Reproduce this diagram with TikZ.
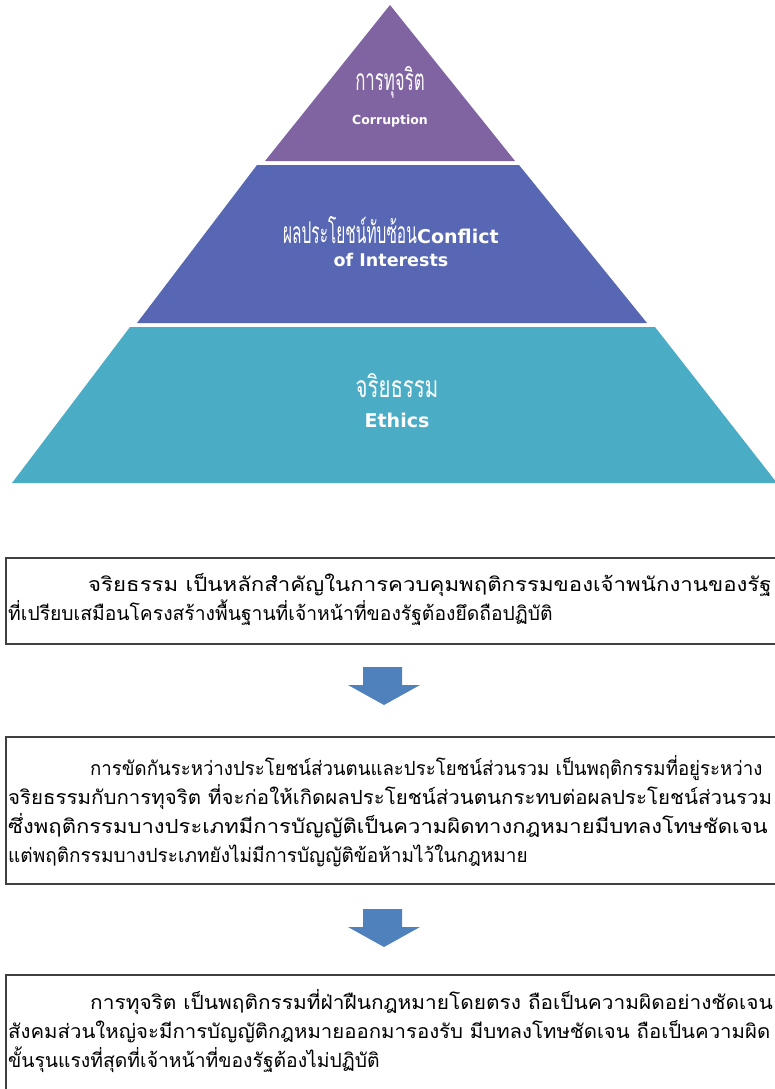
\documentclass[tikz,border=0pt]{standalone}
\usepackage{graphicx}
\usepackage{fontspec}
\newfontfamily\thai[Script=Thai]{Loma}
\newfontfamily\engb{DejaVu Sans}
\newcommand{\stretchline}[2]{\scalebox{#1}[1]{#2}}
\definecolor{purplelayer}{HTML}{8064A2}
\definecolor{bluelayer}{HTML}{5767B3}
\definecolor{teallayer}{HTML}{4BACC6}
\definecolor{arrowblue}{HTML}{4F81BD}
\definecolor{framegray}{HTML}{404040}
\tikzset{
  layer/.style={draw=none},
  thailbl/.style={text=white, inner sep=0, font=\thai\fontsize{30}{30}\selectfont},
  englbl/.style={text=white, inner sep=0, font=\engb\bfseries},
  frame/.style={draw=framegray, line width=1.5pt},
  bodytext/.style={inner sep=0, anchor=base west, align=left,
    font=\thai\fontsize{19.5}{29}\selectfont},
  blockarrow/.style={fill=arrowblue, draw=none}
}
\begin{document}
\begin{tikzpicture}[x=1pt,y=-1pt]
\useasboundingbox (0,0) rectangle (775,1089);
% pyramid
\path[layer, fill=purplelayer] (390,5) -- (515,161) -- (265,161) -- cycle;
\path[layer, fill=bluelayer] (257,165) -- (519,165) -- (647,323) -- (137,323) -- cycle;
\path[layer, fill=teallayer] (130,327) -- (655,327) -- (777,483) -- (12,483) -- cycle;
\node[thailbl] (t1) at (390,82) {\scalebox{0.56}[1]{การทุจริต}};
\node[englbl, font=\engb\bfseries\fontsize{12.5}{12.5}\selectfont] (e1) at (390,121) {Corruption};
\node[thailbl, anchor=base east] (t2) at (417,243) {\scalebox{0.515}[1]{ผลประโยชน์ทับซ้อน}};
\node[englbl, anchor=base west, font=\engb\bfseries\fontsize{19}{19}\selectfont] (e2) at (t2.base east) {Conflict};
\node[englbl, font=\engb\bfseries\fontsize{17.5}{17.5}\selectfont] (e3) at (391,260) {of Interests};
\node[thailbl] (t3) at (397,386) {\scalebox{0.68}[1]{จริยธรรม}};
\node[englbl, font=\engb\bfseries\fontsize{19}{19}\selectfont] (e4) at (397,420) {Ethics};
% boxes
\draw[frame] (6,558) rectangle (790,644);
\draw[frame] (6,737) rectangle (790,884);
\draw[frame] (6,975) rectangle (790,1100);
\node[bodytext] (b1) at (8,620) {\hspace*{80pt}\stretchline{1.14}{จริยธรรม เป็นหลักสำคัญในการควบคุมพฤติกรรมของเจ้าพนักงานของรัฐ}\\
\stretchline{0.99}{ที่เปรียบเสมือนโครงสร้างพื้นฐานที่เจ้าหน้าที่ของรัฐต้องยึดถือปฏิบัติ}};
\node[bodytext] (b2) at (8,862) {\hspace*{82pt}\stretchline{0.955}{การขัดกันระหว่างประโยชน์ส่วนตนและประโยชน์ส่วนรวม เป็นพฤติกรรมที่อยู่ระหว่าง}\\
\stretchline{1.05}{จริยธรรมกับการทุจริต ที่จะก่อให้เกิดผลประโยชน์ส่วนตนกระทบต่อผลประโยชน์ส่วนรวม}\\
\stretchline{1.13}{ซึ่งพฤติกรรมบางประเภทมีการบัญญัติเป็นความผิดทางกฎหมายมีบทลงโทษชัดเจน}\\
\stretchline{0.975}{แต่พฤติกรรมบางประเภทยังไม่มีการบัญญัติข้อห้ามไว้ในกฎหมาย}};
\node[bodytext] (b3) at (8,1067) {\hspace*{82pt}\stretchline{1.07}{การทุจริต เป็นพฤติกรรมที่ฝ่าฝืนกฎหมายโดยตรง ถือเป็นความผิดอย่างชัดเจน}\\
\stretchline{1.045}{สังคมส่วนใหญ่จะมีการบัญญัติกฎหมายออกมารองรับ มีบทลงโทษชัดเจน ถือเป็นความผิด}\\
\stretchline{0.99}{ขั้นรุนแรงที่สุดที่เจ้าหน้าที่ของรัฐต้องไม่ปฏิบัติ}};
% arrows
\path[blockarrow] (363,667) -- (402,667) -- (402,685) -- (420,685) -- (384,705) -- (348,685) -- (363,685) -- cycle;
\path[blockarrow] (363,909) -- (402,909) -- (402,927) -- (420,927) -- (384,947) -- (348,927) -- (363,927) -- cycle;
\end{tikzpicture}
\end{document}
